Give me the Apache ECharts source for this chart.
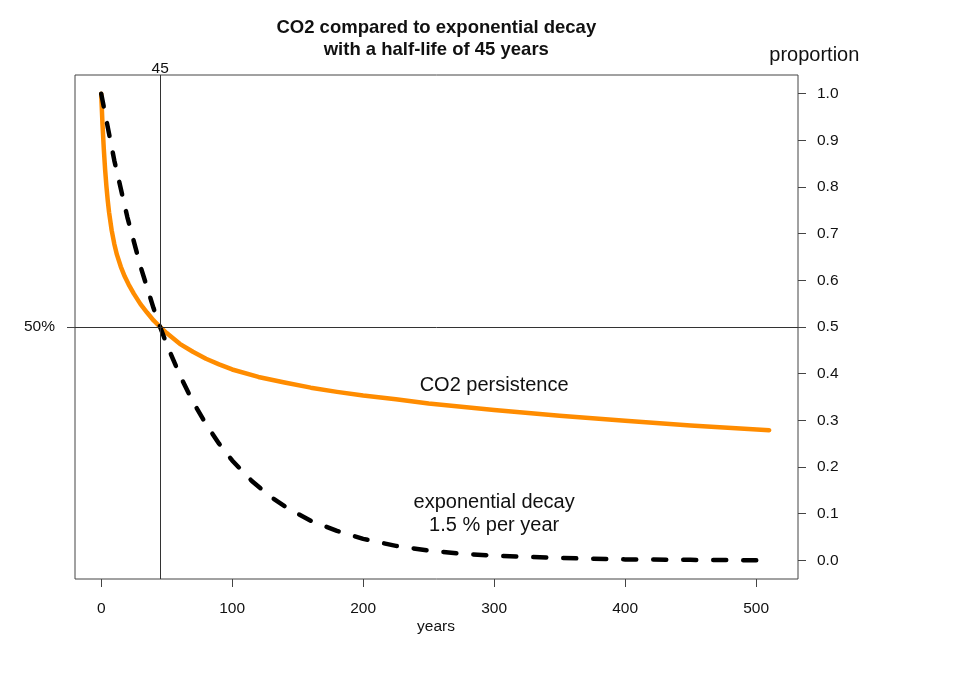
<!DOCTYPE html>
<html>
<head>
<meta charset="utf-8">
<title>CO2 compared to exponential decay</title>
<script src="https://cdn.jsdelivr.net/npm/echarts@6/dist/echarts.min.js"></script>
<style>
html, body { margin: 0; padding: 0; background: #fff; }
#chart { width: 960px; height: 675px; }
</style>
</head>
<body>
<div id="chart"></div>
<script>
// CO2 persistence (orange)
var co2Years = [0, 1, 2, 3, 4, 5, 6, 8, 10, 12, 15, 18, 21, 25, 30, 35, 40, 45, 50, 60, 70, 80, 90,
  100, 120, 140, 160, 180, 200, 225, 250, 300, 350, 400, 450, 510];
var co2Left = [1.000, 0.934, 0.881, 0.837, 0.801, 0.771, 0.746, 0.707, 0.678, 0.655, 0.629, 0.608, 0.591,
  0.571, 0.549, 0.531, 0.514, 0.500, 0.487, 0.464, 0.447, 0.432, 0.420,
  0.409, 0.393, 0.381, 0.370, 0.361, 0.353, 0.345, 0.336, 0.322, 0.310, 0.299, 0.289, 0.279];

// exponential decay (black dashed)
var expYears = [0, 10, 20, 30, 40, 45, 50, 60, 70, 80, 90, 100, 115, 130, 145, 160, 180, 200,
  225, 250, 275, 300, 350, 400, 450, 510];
var expLeft = [1.000, 0.857, 0.735, 0.630, 0.540, 0.500, 0.463, 0.397, 0.340, 0.292, 0.250, 0.214,
  0.170, 0.135, 0.107, 0.085, 0.063, 0.046, 0.031, 0.021, 0.014, 0.010, 0.005, 0.002, 0.001, 0.000];

var xTicks = [0, 100, 200, 300, 400, 500];
var yTicks = [0, 0.1, 0.2, 0.3, 0.4, 0.5, 0.6, 0.7, 0.8, 0.9, 1.0];

var font = '"Liberation Sans", Arial, sans-serif';
var myChart = echarts.init(document.getElementById('chart'));

function pairs(xs, ys) {
  var out = [];
  for (var i = 0; i < xs.length; i++) out.push([xs[i], ys[i]]);
  return out;
}

var tickStyle = { color: '#444', width: 1 };
var labelStyle = { color: '#111', fontSize: 15.5, fontFamily: font };
var noLine = { show: false, onZero: false };

var option = {
  animation: false,
  backgroundColor: '#fff',
  grid: {
    left: 75, right: 162, top: 75, bottom: 96,
    show: true, borderColor: '#444', borderWidth: 1, backgroundColor: 'transparent'
  },
  xAxis: [
    {
      type: 'value', position: 'bottom', min: -20, max: 532,
      axisLine: noLine, splitLine: { show: false },
      axisTick: { show: true, length: 8, customValues: xTicks, lineStyle: tickStyle },
      axisLabel: Object.assign({ customValues: xTicks, margin: 22 }, labelStyle)
    },
    {
      type: 'value', position: 'top', min: -20, max: 532,
      axisLine: noLine, splitLine: { show: false },
      axisTick: { show: false },
      axisLabel: Object.assign({ customValues: [45], margin: -1.5, formatter: function () { return '45'; } }, labelStyle)
    }
  ],
  yAxis: [
    {
      type: 'value', position: 'right', min: -0.04, max: 1.04,
      axisLine: noLine, splitLine: { show: false },
      axisTick: { show: true, length: 8, customValues: yTicks, lineStyle: tickStyle },
      axisLabel: Object.assign({
        customValues: yTicks, margin: 19,
        formatter: function (v) { return v.toFixed(1); }
      }, labelStyle)
    },
    {
      type: 'value', position: 'left', min: -0.04, max: 1.04,
      axisLine: noLine, splitLine: { show: false },
      axisTick: { show: true, length: 8, customValues: [0.5], lineStyle: tickStyle },
      axisLabel: Object.assign({
        customValues: [0.5], margin: 20,
        formatter: function () { return '50%'; }
      }, labelStyle)
    }
  ],
  series: [
    {
      name: 'CO2 persistence', type: 'line', xAxisIndex: 0, yAxisIndex: 0,
      data: pairs(co2Years, co2Left), symbol: 'none', smooth: false,
      lineStyle: { color: '#ff8c00', width: 4.5, cap: 'round', join: 'round' },
      markLine: {
        silent: true, symbol: 'none', label: { show: false },
        lineStyle: { color: '#333', width: 1, type: 'solid' },
        data: [{ xAxis: 45 }, { yAxis: 0.5 }]
      }
    },
    {
      name: 'exponential decay', type: 'line', xAxisIndex: 0, yAxisIndex: 0,
      data: pairs(expYears, expLeft), symbol: 'none', smooth: false,
      lineStyle: { color: '#000', width: 4.5, type: [13, 17], cap: 'round', join: 'round' }
    }
  ]
};

myChart.setOption(option);

// texts placed on data coordinates
var pCo2 = myChart.convertToPixel({ xAxisIndex: 0, yAxisIndex: 0 }, [300, 0.375]);
var pExp = myChart.convertToPixel({ xAxisIndex: 0, yAxisIndex: 0 }, [300, 0.1]);

function txt(x, y, text, size, weight, lh) {
  return {
    type: 'text', x: x, y: y, silent: true,
    style: {
      text: text, fill: '#111', fontSize: size, fontWeight: weight || 'normal',
      fontFamily: font, textAlign: 'center', textVerticalAlign: 'middle',
      lineHeight: lh || size
    }
  };
}

myChart.setOption({
  graphic: [
    txt(436.3, 28.4, 'CO2 compared to exponential decay', 18.5, 'bold'),
    txt(436.3, 50, 'with a half-life of 45 years', 18.5, 'bold'),
    txt(814.3, 55.8, 'proportion', 20),
    txt(436, 627, 'years', 15.5),
    txt(pCo2[0], pCo2[1], 'CO2 persistence', 20),
    txt(pExp[0], pExp[1], 'exponential decay\n1.5 % per year', 20, 'normal', 23.3)
  ]
});
</script>
</body>
</html>
